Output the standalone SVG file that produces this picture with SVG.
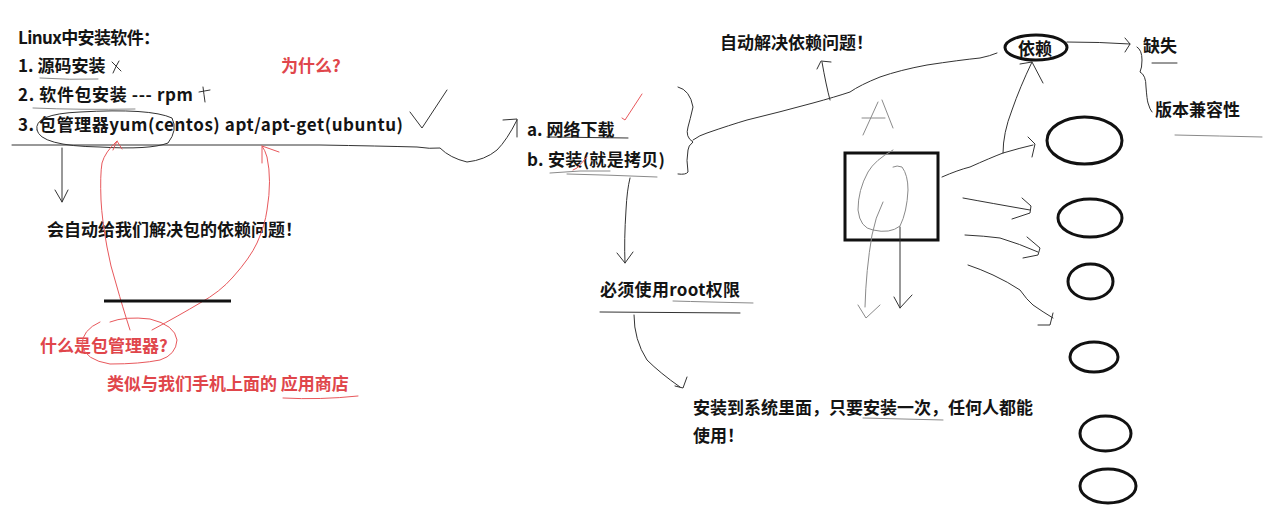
<svg xmlns="http://www.w3.org/2000/svg" width="1265" height="509" viewBox="0 0 1265 509">
<style>
.t{font-family:"Noto Sans CJK SC","Microsoft YaHei",sans-serif;font-weight:bold;font-size:17px;fill:#141414}
.r{fill:#e0464b}
.ln{fill:none;stroke:#333;stroke-width:1;stroke-linecap:round;stroke-linejoin:round}
.g{stroke:#8a8a8a}
.rl{fill:none;stroke:#e8585c;stroke-width:1;stroke-linecap:round;stroke-linejoin:round}
.th{fill:none;stroke:#111;stroke-width:3}
</style>
<rect width="1265" height="509" fill="#fff"/>

<g id="left-list">
<text class="t" x="18" y="44" textLength="142" lengthAdjust="spacing">Linux中安装软件：</text>
<text class="t" x="18" y="72">1. 源码安装</text>
<text class="t" x="18" y="101" textLength="175" lengthAdjust="spacing">2. 软件包安装 --- rpm</text>
<text class="t" x="18" y="131" textLength="385" lengthAdjust="spacing">3. 包管理器yum(centos) apt/apt-get(ubuntu)</text>
<text class="t r" x="281" y="72">为什么?</text>
<text class="t" x="47" y="236">会自动给我们解决包的依赖问题！</text>
<text class="t r" x="40" y="352">什么是包管理器?</text>
<text class="t r" x="107" y="390">类似与我们手机上面的 应用商店</text>
</g>

<g id="left-strokes">
<path class="ln g" d="M40 78 Q70 80 98 79"/>
<path class="ln g" d="M33 108 Q80 110 135 109"/>
<path class="ln" d="M112 62 L121 71 M119 61 Q116 66 113 73"/>
<path class="ln" d="M199 92 L210 90 M203 87 Q204 95 205 102"/>
<path class="ln" d="M410 112 L422 128 L447 90"/>
<path class="ln" d="M37 130 Q33 114 80 112 Q150 108 172 118 Q178 130 168 143 Q150 150 100 147 Q40 146 37 130"/>
<path class="ln" d="M12 145 L320 145 Q380 146 417 147 Q430 149 440 148 Q450 158 467 162 Q485 160 497 150 Q507 140 517 120"/>
<path class="ln" d="M503 120 L517 119 L517 137"/>
<path class="ln" d="M62 148 L62 202 M55 190 L62 202 L68 190"/>
<path class="rl" d="M130 330 Q122 305 117 287 Q110 265 107 247 Q102 220 101 200 Q100 175 102 163 Q105 152 117 141"/>
<path class="rl" d="M113 150 L117 141 L122 149"/>
<path class="rl" d="M152 330 Q180 315 200 303 Q220 292 233 277 Q250 258 257 243 Q265 225 267 210 Q272 180 267 157 Q265 150 262 146"/>
<path class="rl" d="M262 146 L279 152 M262 147 L262 163"/>
<path class="rl" d="M110 322 Q125 316 150 319 Q175 325 177 340 Q176 355 160 360 Q140 364 110 364 Q85 360 82 345 Q82 330 100 322"/>
<line x1="104" y1="301" x2="231" y2="301" stroke="#111" stroke-width="3"/>
<path class="rl" d="M283 398 Q320 400 358 396"/>
</g>

<g id="middle">
<text class="t" x="527" y="136">a. 网络下载</text>
<text class="t" x="527" y="166" textLength="138" lengthAdjust="spacing">b. 安装(就是拷贝)</text>
<text class="t" x="720" y="49">自动解决依赖问题！</text>
<text class="t" x="600" y="296" textLength="140" lengthAdjust="spacing">必须使用root权限</text>
<text class="t" x="693" y="414">安装到系统里面，只要安装一次，任何人都能</text>
<text class="t" x="693" y="442">使用！</text>
<path class="rl" d="M622 118 L625 120 L642 94"/>
<path class="rl" d="M573 170 L577 168 L587 157"/>
<path class="ln" d="M547 137 L628 138"/>
<path class="ln g" d="M550 173 Q580 170 610 171 M567 174 Q610 175 657 177"/>
<path class="ln" d="M678 87 Q690 90 693 107 Q690 120 688 127 Q685 137 693 142 Q688 146 688 150 Q686 160 688 172 Q686 175 678 174"/>
<path class="ln" d="M693 140 Q700 135 707 133 Q730 125 747 120 Q780 112 813 103 Q835 97 850 92 Q860 85 880 77 Q900 70 927 65 Q960 60 980 58 Q990 56 997 53"/>
<path class="ln" d="M830 100 Q826 85 822 62 M817 69 L821 61 L831 62"/>
<path class="ln" d="M630 178 Q627 190 626 210 Q624 240 625 263 M617 253 L625 263 L633 252"/>
<path class="ln g" d="M673 301 Q707 302 753 303"/>
<path class="ln" d="M600 312 L740 313"/>
<path class="ln" d="M634 315 Q634 340 647 360 Q660 373 680 387 M675 386 L683 388 L687 377"/>
<path class="ln g" d="M863 418 L943 420"/>
</g>

<g id="right">
<ellipse class="th" cx="1036" cy="47.5" rx="31" ry="12.5"/>
<text class="t" x="1018" y="55">依赖</text>
<text class="t" x="1143" y="52">缺失</text>
<text class="t" x="1155" y="116">版本兼容性</text>
<path class="ln" d="M1067 42 Q1100 42 1130 44 M1125 38 L1130 44 L1125 52"/>
<path class="ln" d="M1137 47 Q1142 50 1142 60 Q1142 68 1140 72 Q1146 75 1146 87 Q1147 100 1148 103 Q1150 110 1152 112"/>
<path class="ln" d="M1152 63 L1177 63"/>
<path class="ln g" d="M1175 135 Q1220 136 1262 137"/>
<path class="ln g" d="M863 135 L878 102 M882 100 L893 128 M862 118 L885 118"/>
<rect class="th" x="845" y="153" width="93" height="87"/>
<path class="ln g" d="M893 150 Q875 160 868 172 Q858 190 858 210 Q860 228 873 230 Q890 234 900 226 Q907 212 908 190 Q908 175 902 167 Q897 165 893 167"/>
<path class="ln g" d="M883 202 Q875 218 872 235 Q866 270 865 307 M858 305 L866 318 L880 305"/>
<path class="ln" d="M900 227 L900 308 M894 297 L900 308 L912 295"/>
<path class="ln" d="M1003 153 Q1003 133 1012 110 Q1020 87 1032 62 M1020 64 L1032 62 L1043 83"/>
<path class="ln" d="M942 177 Q958 170 970 167 Q990 158 1003 153 Q1020 148 1033 145 M1028 137 L1035 144 L1032 157"/>
<path class="ln" d="M963 198 Q990 203 1030 210 M1022 198 L1031 206 L1030 213 L1012 219"/>
<path class="ln" d="M965 235 Q985 236 1000 238 Q1020 244 1038 252 M1027 237 L1040 248 L1038 255 L1023 258"/>
<path class="ln" d="M968 265 Q980 269 993 275 Q1008 282 1020 290 Q1027 300 1033 305 Q1043 312 1053 318 M1053 313 L1050 325 L1038 325"/>
<ellipse class="th" cx="1084.5" cy="140.5" rx="37.5" ry="23.5"/>
<ellipse class="th" cx="1090" cy="218" rx="32" ry="19"/>
<ellipse class="th" cx="1090.5" cy="281.5" rx="22.5" ry="17.5"/>
<ellipse class="th" cx="1094" cy="357" rx="24" ry="15"/>
<ellipse class="th" cx="1105.5" cy="433.5" rx="25.5" ry="17.5"/>
<ellipse class="th" cx="1108" cy="486" rx="28" ry="17"/>
</g>
</svg>
